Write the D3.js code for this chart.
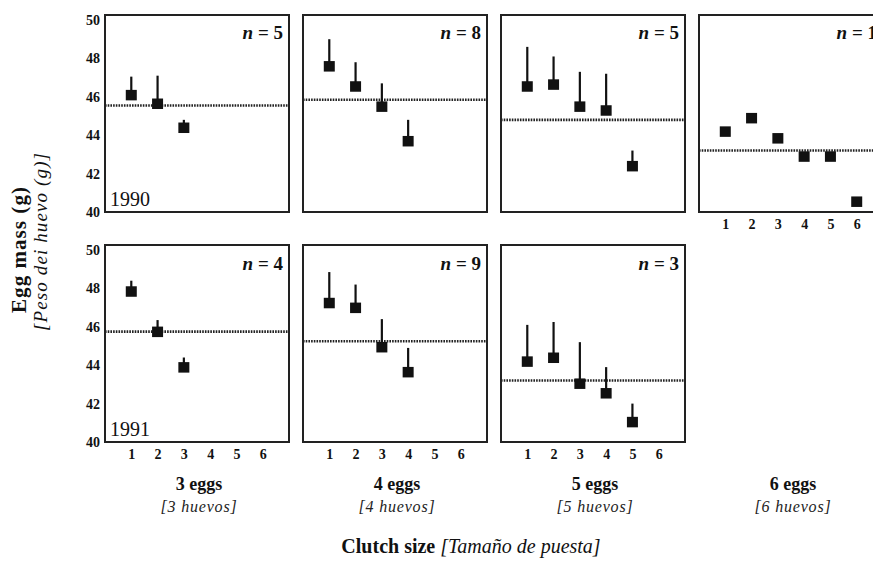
<!DOCTYPE html>
<html lang="en">
<head>
    <meta charset="UTF-8">
    <title>Egg mass by laying order</title>
    <script src="https://d3js.org/d3.v7.min.js"></script>
    <style>
        body { margin: 0; background: #fff; }
        .frame { fill: none; stroke: #222; stroke-width: 2px; }
        .mean { stroke: #222; stroke-width: 2.6px; stroke-dasharray: 1.6,1.1; }
        .err { stroke: #111; stroke-width: 2.2px; }
        .egg { fill: #111; }
    </style>
</head>
<body>
    <script>
        // clutch sizes (columns) and years (rows)
        const clutchSizes = [3, 4, 5, 6];
        const years = ["1990", "1991"];
        const eggOrder = [1, 2, 3, 4, 5, 6];
        const yTicks = [40, 42, 44, 46, 48, 50];

        // number of nests per panel
        const nests1990 = [5, 8, 5, 1];
        const nests1991 = [4, 9, 3];

        // mean egg mass by laying order, one array per clutch size
        const mass1990 = [
            [46.1, 45.65, 44.4],
            [47.6, 46.55, 45.5, 43.7],
            [46.55, 46.65, 45.5, 45.3, 42.4],
            [44.2, 44.9, 43.85, 42.9, 42.9, 40.55]
        ];
        // top of the (upper) error bar
        const upper1990 = [
            [47.05, 47.1, 44.8],
            [49.0, 47.8, 46.7, 44.8],
            [48.6, 48.1, 47.3, 47.2, 43.2],
            []
        ];
        // dotted line: overall clutch mean
        const mean1990 = [45.55, 45.85, 44.8, 43.2];

        const mass1991 = [
            [47.85, 45.75, 43.9],
            [47.25, 47.0, 44.95, 43.65],
            [44.2, 44.4, 43.05, 42.55, 41.05]
        ];
        const upper1991 = [
            [48.4, 46.35, 44.4],
            [48.85, 48.2, 46.4, 44.9],
            [46.1, 46.25, 45.2, 43.9, 42.0]
        ];
        const mean1991 = [45.75, 45.25, 43.2];

        const W = 873, H = 561;
        const pw = 184, ph = 197;
        const left0 = 105, top0 = 15, colStep = 198, rowStep = 230;

        // pick a serif face that is really installed
        function hasFont(name) {
            const ctx = document.createElement("canvas").getContext("2d");
            const s = "Egg mass 1990 WWwwmmlli";
            return ["monospace", "sans-serif"].some(base => {
                ctx.font = `40px ${base}`;
                const a = ctx.measureText(s).width;
                ctx.font = `40px '${name}', ${base}`;
                return ctx.measureText(s).width !== a;
            });
        }
        const serifName = ["Liberation Serif", "Tinos", "Times New Roman", "Nimbus Roman", "DejaVu Serif", "Noto Serif"]
            .find(hasFont);
        const serif = serifName ? `'${serifName}', serif` : "serif";
        const narrow = serifName === "DejaVu Serif" ? 0.86 : 1;   // DejaVu runs wide

        const svg = d3.select("body").append("svg")
            .attr("width", W)
            .attr("height", H)
            .attr("font-family", serif);

        const x = d3.scaleLinear().domain([0, 7]).range([0, pw]);
        const y = d3.scaleLinear().domain([40, 50.26]).range([ph, 0]);

        const rows = [
            { year: years[0], n: nests1990, mass: mass1990, upper: upper1990, mean: mean1990 },
            { year: years[1], n: nests1991, mass: mass1991, upper: upper1991, mean: mean1991 }
        ];

        function styleTicks(sel) {
            sel.attr("font-family", serif).attr("font-size", 14 * narrow).attr("font-weight", "bold");
            sel.select(".domain").remove();
            sel.selectAll("text").attr("fill", "#111");
        }

        rows.forEach((r, ri) => {
            r.mass.forEach((vals, ci) => {
                const g = svg.append("g")
                    .attr("transform", `translate(${left0 + ci * colStep},${top0 + ri * rowStep})`);

                // y axis labels on the first column
                if (ci === 0) {
                    g.append("g")
                        .call(d3.axisLeft(y).tickValues(yTicks).tickSize(0).tickPadding(5).tickFormat(d3.format("d")))
                        .call(styleTicks);
                }

                // x axis labels on bottom row, and on the lone top-right panel
                if (ri === 1 || ci === 3) {
                    g.append("g")
                        .attr("transform", `translate(0,${ph})`)
                        .call(d3.axisBottom(x).tickValues(eggOrder).tickSize(0).tickPadding(7).tickFormat(d3.format("d")))
                        .call(styleTicks);
                }

                g.append("line")
                    .attr("class", "mean")
                    .attr("x1", 0).attr("x2", pw)
                    .attr("y1", y(r.mean[ci])).attr("y2", y(r.mean[ci]));

                const ups = r.upper[ci] || [];
                g.selectAll("line.err")
                    .data(ups)
                    .join("line")
                    .attr("class", "err")
                    .attr("x1", (d, i) => x(i + 1)).attr("x2", (d, i) => x(i + 1))
                    .attr("y1", d => y(d))
                    .attr("y2", (d, i) => y(vals[i]));

                g.selectAll("rect.egg")
                    .data(vals)
                    .join("rect")
                    .attr("class", "egg")
                    .attr("x", (d, i) => x(i + 1) - 5.5)
                    .attr("y", d => y(d) - 5)
                    .attr("width", 11)
                    .attr("height", 10.5);

                g.append("rect")
                    .attr("class", "frame")
                    .attr("width", pw)
                    .attr("height", ph);

                const nt = g.append("text")
                    .attr("x", pw - 6)
                    .attr("y", ri === 0 ? 24 : 25)
                    .attr("text-anchor", "end")
                    .attr("font-size", 19 * narrow)
                    .attr("font-weight", "bold")
                    .attr("fill", "#111");
                nt.append("tspan").attr("font-style", "italic").text("n");
                nt.append("tspan").text(" = " + r.n[ci]);

                if (ci === 0) {
                    g.append("text")
                        .attr("x", 5)
                        .attr("y", ph - 6)
                        .attr("font-size", 20 * narrow)
                        .attr("fill", "#111")
                        .text(r.year);
                }
            });
        });

        // clutch size labels under each column
        clutchSizes.forEach((c, ci) => {
            const cx = left0 + ci * colStep + pw / 2 + 2;
            svg.append("text")
                .attr("x", cx).attr("y", 490)
                .attr("text-anchor", "middle")
                .attr("font-size", 18 * narrow)
                .attr("font-weight", "bold")
                .attr("fill", "#111")
                .text(c + " eggs");
            svg.append("text")
                .attr("x", cx).attr("y", 512)
                .attr("text-anchor", "middle")
                .attr("font-size", 16 * narrow)
                .attr("font-style", "italic")
                .attr("letter-spacing", 0.8)
                .attr("fill", "#222")
                .text(`[${c} huevos]`);
        });

        const xl = svg.append("text")
            .attr("x", 471).attr("y", 553)
            .attr("text-anchor", "middle")
            .attr("font-size", 20 * narrow)
            .attr("fill", "#111");
        xl.append("tspan").attr("font-weight", "bold").text("Clutch size ");
        xl.append("tspan").attr("font-style", "italic").text("[Tamaño de puesta]");

        svg.append("text")
            .attr("transform", "translate(26,250) rotate(-90)")
            .attr("text-anchor", "middle")
            .attr("font-size", 21 * narrow)
            .attr("font-weight", "bold")
            .attr("fill", "#111")
            .attr("textLength", 126)
            .text("Egg mass (g)");
        svg.append("text")
            .attr("transform", "translate(47,242) rotate(-90)")
            .attr("text-anchor", "middle")
            .attr("font-size", 19 * narrow)
            .attr("font-style", "italic")
            .attr("fill", "#111")
            .attr("textLength", 178)
            .text("[Peso dei huevo (g)]");
    </script>
</body>
</html>
